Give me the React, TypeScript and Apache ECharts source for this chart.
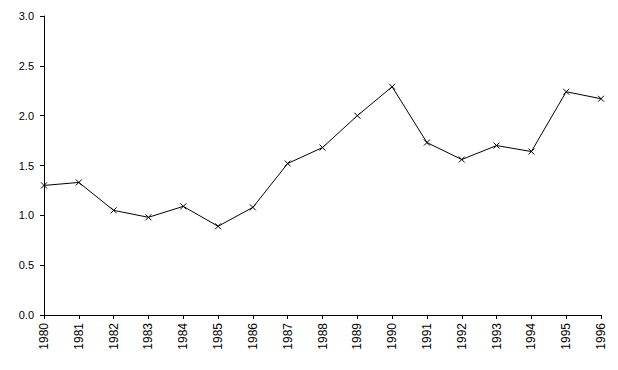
import React, { useEffect, useRef } from "react";
import * as echarts from "echarts";

const years = ["1980","1981","1982","1983","1984","1985","1986","1987","1988","1989","1990","1991","1992","1993","1994","1995","1996"];
const values = [1.30, 1.33, 1.05, 0.98, 1.09, 0.89, 1.08, 1.52, 1.68, 2.00, 2.29, 1.73, 1.56, 1.70, 1.64, 2.24, 2.17];

export default function App() {
  const ref = useRef<HTMLDivElement>(null);
  useEffect(() => {
    if (!ref.current) return;
    const chart = echarts.init(ref.current, null, { renderer: "svg" });
    const font = "'Liberation Sans', Arial, sans-serif";
    chart.setOption({
      animation: false,
      backgroundColor: "#ffffff",
      grid: { left: 44, right: 17, top: 16, bottom: 55, containLabel: false },
      xAxis: {
        type: "category",
        data: years,
        boundaryGap: false,
        axisLine: { lineStyle: { color: "#000", width: 1 } },
        axisTick: { alignWithLabel: true, length: 4, lineStyle: { color: "#000" } },
        axisLabel: { rotate: 90, margin: 8, color: "#000", fontSize: 12, fontFamily: font, interval: 0 },
        splitLine: { show: false },
      },
      yAxis: {
        type: "value",
        min: 0,
        max: 3,
        interval: 0.5,
        axisLine: { show: true, lineStyle: { color: "#000", width: 1 } },
        axisTick: { show: true, length: 4, lineStyle: { color: "#000" } },
        axisLabel: { margin: 10, color: "#000", fontSize: 11, fontFamily: font, formatter: (v: number) => v.toFixed(1) },
        splitLine: { show: false },
      },
      series: [
        {
          type: "line",
          data: values,
          symbol: "path://M0,0L10,10M10,0L0,10",
          symbolSize: 6,
          showSymbol: true,
          lineStyle: { color: "#000", width: 1 },
          itemStyle: { color: "#000", borderColor: "#000", borderWidth: 1 },
        },
      ],
    });
    return () => chart.dispose();
  }, []);
  return <div ref={ref} style={{ width: 618, height: 370, position: "absolute", left: 0, top: 0 }} />;
}
